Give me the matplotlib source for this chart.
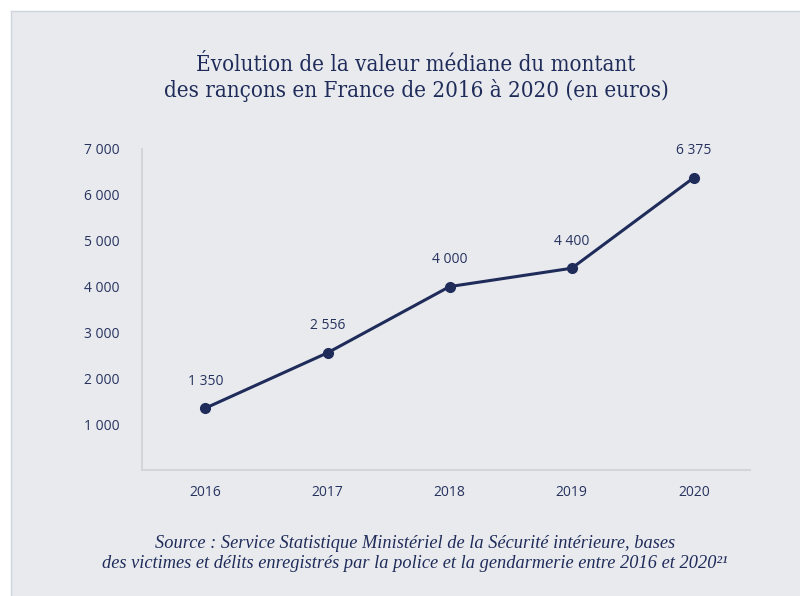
import matplotlib.pyplot as plt
from matplotlib.patches import Rectangle
from matplotlib.lines import Line2D

years = [2016, 2017, 2018, 2019, 2020]
values = [1350, 2556, 4000, 4400, 6375]
labels = ["1 350", "2 556", "4 000", "4 400", "6 375"]
yticks = [1000, 2000, 3000, 4000, 5000, 6000, 7000]
ytick_labels = ["1 000", "2 000", "3 000", "4 000", "5 000", "6 000", "7 000"]

navy = '#1f2c5a'
text_col = '#27335f'
bg = '#e9eaee'
edge = '#cfd5dc'

fig = plt.figure(figsize=(8, 5.96), dpi=100)
fig.patch.set_facecolor('white')

# panel background with thin border on top / left
fig.patches.append(Rectangle((11/800, 0), 1, 1 - 11/596, transform=fig.transFigure,
                             facecolor=bg, edgecolor='none', zorder=-5))
fig.lines.append(Line2D([11/800, 1], [1 - 11/596, 1 - 11/596], transform=fig.transFigure,
                        color=edge, lw=1, zorder=-4))
fig.lines.append(Line2D([11/800, 11/800], [0, 1 - 11/596], transform=fig.transFigure,
                        color=edge, lw=1, zorder=-4))

ax = fig.add_axes([142/800, 1 - 470/596, 608/800, 321/596])
ax.set_zorder(2)
ax.set_facecolor('none')
ax.plot(years, values, color=navy, lw=2.2, marker='o', markersize=7, zorder=3,
        clip_on=False)
for x, y, s in zip(years, values, labels):
    ax.annotate(s, (x, y), xytext=(0, 14), textcoords='offset points', ha='center',
                va='bottom', fontsize=10, color=text_col, family='Open Sans')

ax.set_xlim(2015.48, 2020.46)
ax.set_ylim(0, 7000)
ax.set_xticks(years)
ax.set_xticklabels([str(y) for y in years], family='Open Sans', fontsize=10, color=text_col)
ax.set_yticks(yticks)
ax.set_yticklabels(ytick_labels, family='Open Sans', fontsize=10, color=text_col)
ax.tick_params(axis='x', length=0, pad=11)
ax.tick_params(axis='y', length=0, pad=16)
for s in ['top', 'right']:
    ax.spines[s].set_visible(False)
for s in ['left', 'bottom']:
    ax.spines[s].set_color('#d3d5d9')
    ax.spines[s].set_linewidth(1.5)

fig.text(0.52, 1 - 65/596, "Évolution de la valeur médiane du montant",
         ha='center', va='center', fontsize=16, color=navy, family='DejaVu Serif',
         fontstretch='condensed')
fig.text(0.52, 1 - 90/596, "des rançons en France de 2016 à 2020 (en euros)",
         ha='center', va='center', fontsize=16, color=navy, family='DejaVu Serif',
         fontstretch='condensed')

fig.text(0.519, 1 - 543/596,
         "Source : Service Statistique Ministériel de la Sécurité intérieure, bases",
         ha='center', va='center', fontsize=13.2, color=navy, family='Liberation Serif',
         style='italic')
fig.text(0.519, 1 - 563/596,
         "des victimes et délits enregistrés par la police et la gendarmerie entre 2016 et 2020²¹",
         ha='center', va='center', fontsize=13.2, color=navy, family='Liberation Serif',
         style='italic')

fig.savefig('out.png', dpi=100, facecolor=fig.get_facecolor())
